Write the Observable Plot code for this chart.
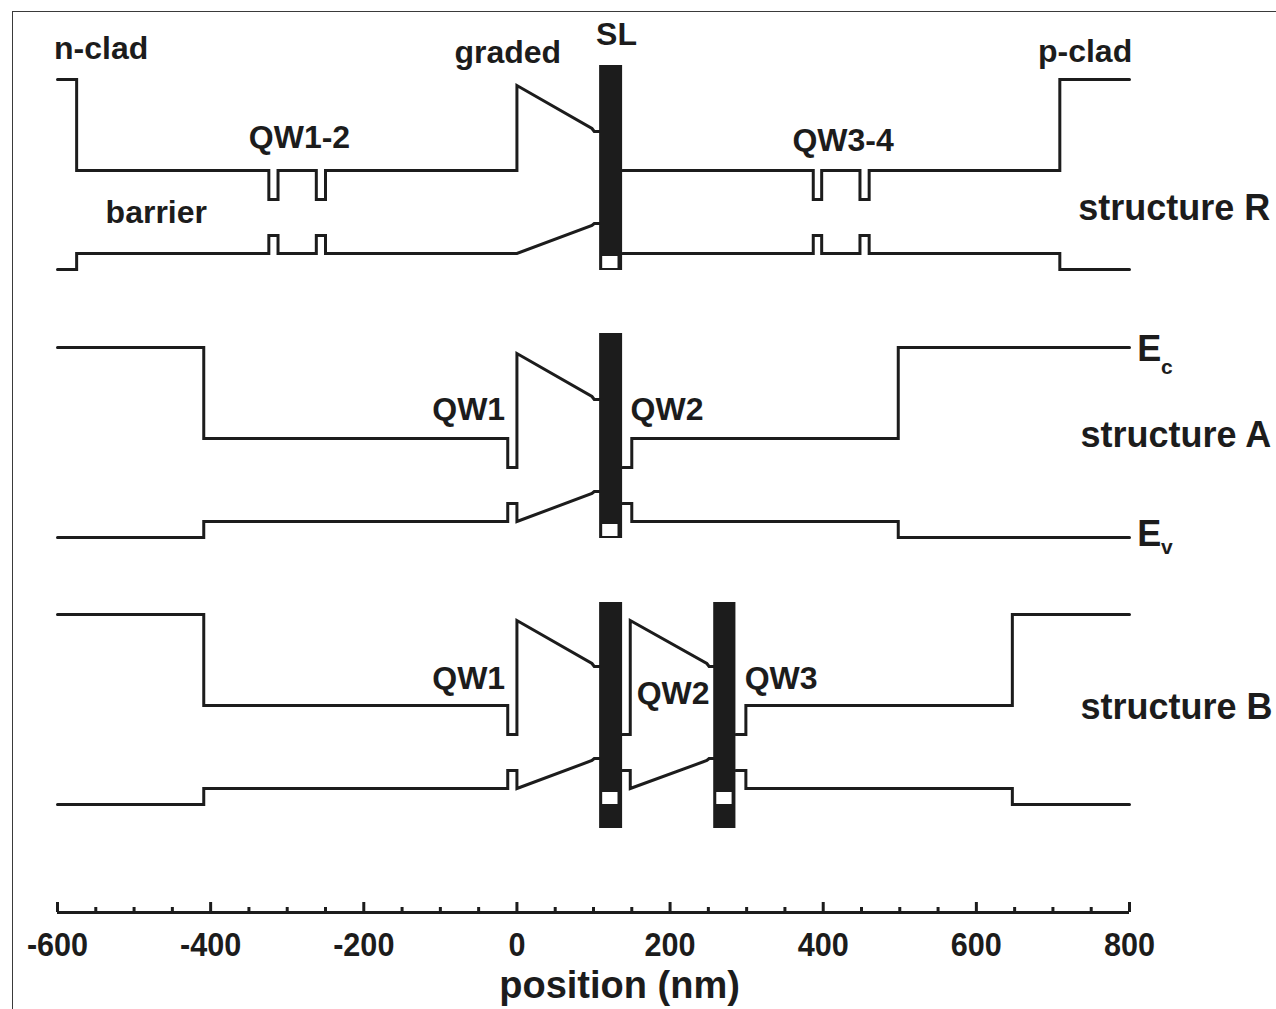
<!DOCTYPE html>
<html>
<head>
<meta charset="utf-8">
<script src="https://cdn.jsdelivr.net/npm/d3@7"></script>
<script src="https://cdn.jsdelivr.net/npm/@observablehq/plot@0.6"></script>
<style>
  html, body { margin: 0; padding: 0; background: #fff; overflow: hidden; }
  #wrap { position: relative; width: 1276px; height: 1009px; }
  #border { position: absolute; left: 12px; top: 11px; width: 1400px; height: 1200px;
            border-top: 1.5px solid #3a3a3a; border-left: 1.5px solid #3a3a3a; pointer-events: none; z-index: 2; }
  #wrap svg { position: absolute; left: 0; top: 0; }
</style>
</head>
<body>
<div id="wrap"><div id="border"></div></div>
<script>
// ---------------- data ----------------
const positionTicks = [-600, -400, -200, 0, 200, 400, 600, 800];
const minorTicks = [-550, -500, -450, -350, -300, -250, -150, -100, -50, 50, 100, 150, 250, 300, 350, 450, 500, 550, 650, 700, 750];

// vertical stacking offset of each structure (energy, a.u.)
const structureNames = ["R", "A", "B"];
const structureOffsets = [0, -2.68, -5.35];

// band edges: [position (nm), energy (a.u., relative to cladding Ev)]; null = interrupted by the SL
const ecR = [[-600, 1.90], [-575, 1.90], [-575, 0.99], [-324, 0.99], [-324, 0.70], [-312, 0.70], [-312, 0.99],
  [-262, 0.99], [-262, 0.70], [-250, 0.70], [-250, 0.99], [0, 0.99], [0, 1.84], [98, 1.41], [101, 1.38], [108, 1.38], null,
  [138, 0.99], [387, 0.99], [387, 0.70], [398, 0.70], [398, 0.99], [448, 0.99], [448, 0.70], [460, 0.70], [460, 0.99],
  [709, 0.99], [709, 1.90], [800, 1.90]];
const evR = [[-600, 0], [-575, 0], [-575, 0.16], [-324, 0.16], [-324, 0.34], [-312, 0.34], [-312, 0.16],
  [-262, 0.16], [-262, 0.34], [-250, 0.34], [-250, 0.16], [0, 0.16], [98, 0.44], [101, 0.46], [108, 0.46], null,
  [138, 0.16], [387, 0.16], [387, 0.34], [398, 0.34], [398, 0.16], [448, 0.16], [448, 0.34], [460, 0.34], [460, 0.16],
  [709, 0.16], [709, 0], [800, 0]];

const ecA = [[-600, 1.90], [-409, 1.90], [-409, 0.99], [-12, 0.99], [-12, 0.70], [0, 0.70], [0, 1.84],
  [98, 1.41], [101, 1.38], [108, 1.38], null,
  [138, 0.70], [150, 0.70], [150, 0.99], [498, 0.99], [498, 1.90], [800, 1.90]];
const evA = [[-600, 0], [-409, 0], [-409, 0.16], [-12, 0.16], [-12, 0.34], [0, 0.34], [0, 0.16],
  [98, 0.44], [101, 0.46], [108, 0.46], null,
  [138, 0.34], [150, 0.34], [150, 0.16], [498, 0.16], [498, 0], [800, 0]];

const ecB = [[-600, 1.90], [-409, 1.90], [-409, 0.99], [-12, 0.99], [-12, 0.70], [0, 0.70], [0, 1.84],
  [98, 1.41], [101, 1.38], [108, 1.38], null,
  [138, 0.70], [148, 0.70], [148, 1.84], [248, 1.41], [251, 1.38], [257, 1.38], null,
  [286, 0.70], [299, 0.70], [299, 0.99], [647, 0.99], [647, 1.90], [800, 1.90]];
const evB = [[-600, 0], [-409, 0], [-409, 0.16], [-12, 0.16], [-12, 0.34], [0, 0.34], [0, 0.16],
  [98, 0.44], [101, 0.46], [108, 0.46], null,
  [138, 0.34], [148, 0.34], [148, 0.16], [248, 0.44], [251, 0.46], [257, 0.46], null,
  [286, 0.34], [299, 0.34], [299, 0.16], [647, 0.16], [647, 0], [800, 0]];

// superlattice (SL) blocks: start, end (nm), top, bottom (energy)
const slR = [[108, 138, 2.04, -0.01]];
const slA = [[108, 138, 2.04, -0.01]];
const slB = [[108, 138, 2.02, -0.24], [257, 286, 2.02, -0.24]];
// open windows inside the SL blocks
const slWinR = [[112, 132, 0.13, 0.01]];
const slWinA = [[112, 132, 0.13, 0.01]];
const slWinB = [[112, 132, 0.12, 0.0], [261, 281, 0.12, 0.0]];

// ---------------- build tables ----------------
const profiles = { R: [ecR, evR], A: [ecA, evA], B: [ecB, evB] };
const sls = { R: slR, A: slA, B: slB };
const slWins = { R: slWinR, A: slWinA, B: slWinB };

const bandPts = [];
const slRects = [];
const winRects = [];
structureNames.forEach((s, i) => {
  const off = structureOffsets[i];
  profiles[s].forEach((band, b) => {
    let seg = 0;
    band.forEach(p => {
      if (p === null) { seg++; return; }
      bandPts.push({ id: `${s}-${b}-${seg}`, x: p[0], y: p[1] + off });
    });
  });
  sls[s].forEach(r => slRects.push({ x1: r[0], x2: r[1], y1: r[2] + off, y2: r[3] + off }));
  slWins[s].forEach(r => winRects.push({ x1: r[0], x2: r[1], y1: r[2] + off, y2: r[3] + off }));
});

// ---------------- annotations ----------------
const font = "'Liberation Sans', Arial, Helvetica, sans-serif";
const ink = "#1c1c1c";
const labelsMid = [
  { t: "n-clad", x: -543, y: 2.11 },
  { t: "graded", x: -12, y: 2.07 },
  { t: "SL", x: 130, y: 2.245 },
  { t: "p-clad", x: 742, y: 2.08 },
  { t: "QW1-2", x: -284, y: 1.22 },
  { t: "QW3-4", x: 426, y: 1.19 },
  { t: "barrier", x: -471, y: 0.47 },
  { t: "QW1", x: -63, y: -1.50 },
  { t: "QW2", x: 196, y: -1.50 },
  { t: "QW1", x: -63, y: -4.19 },
  { t: "QW2", x: 204, y: -4.34 },
  { t: "QW3", x: 345, y: -4.19 }
];
const labelsBig = [
  { t: "structure R", x: 733, y: 0.50 },
  { t: "structure A", x: 736, y: -1.77 },
  { t: "structure B", x: 736, y: -4.49 },
  { t: "E", x: 810, y: -0.91 },
  { t: "E", x: 810, y: -2.76 }
];
const labelsSub = [
  { t: "c", x: 841, y: -1.04 },
  { t: "v", x: 841, y: -2.84 }
];

const chart = Plot.plot({
  width: 1276,
  height: 1009,
  marginLeft: 57,
  marginRight: 147,
  marginTop: 12,
  marginBottom: 97,
  x: { domain: [-600, 800], axis: null },
  y: { domain: [-6.43, 2.57], axis: null },
  style: { background: "none", color: ink, fontFamily: font },
  marks: [
    Plot.line(bandPts, { x: "x", y: "y", z: "id", stroke: ink, strokeWidth: 3, strokeLinejoin: "miter", strokeMiterlimit: 10 }),
    Plot.rect(slRects, { x1: "x1", x2: "x2", y1: "y1", y2: "y2", fill: ink }),
    Plot.rect(winRects, { x1: "x1", x2: "x2", y1: "y1", y2: "y2", fill: "#ffffff" }),
    // x axis
    Plot.ruleY([-6.43], { stroke: ink, strokeWidth: 3 }),
    Plot.tickX(positionTicks, { x: d => d, insetTop: 890, stroke: ink, strokeWidth: 3 }),
    Plot.tickX(minorTicks, { x: d => d, insetTop: 895, stroke: ink, strokeWidth: 3 }),
    Plot.text(positionTicks, { x: d => d, text: d => String(d), frameAnchor: "bottom", dy: 19, lineAnchor: "top",
      fontSize: 34, fontWeight: "bold", fontFamily: font, fill: ink, ariaLabel: "tick-labels" }),
    Plot.text(["position (nm)"], { x: 134, text: d => d, frameAnchor: "bottom", dy: 85, lineAnchor: "bottom",
      fontSize: 38, fontWeight: "bold", fontFamily: font, fill: ink }),
    // annotations
    Plot.text(labelsMid, { x: "x", y: "y", text: "t", textAnchor: "middle", lineAnchor: "bottom",
      fontSize: 32, fontWeight: "bold", fontFamily: font, fill: ink }),
    Plot.text(labelsBig, { x: "x", y: "y", text: "t", textAnchor: "start", lineAnchor: "bottom",
      fontSize: 36, fontWeight: "bold", fontFamily: font, fill: ink }),
    Plot.text(labelsSub, { x: "x", y: "y", text: "t", textAnchor: "start", lineAnchor: "bottom",
      fontSize: 21, fontWeight: "bold", fontFamily: font, fill: ink })
  ]
});
document.getElementById("wrap").appendChild(chart);

// condense the tick labels horizontally, like the narrow digits of the original
const tickGroup = chart.querySelector('g[aria-label="tick-labels"]') || chart.querySelectorAll('g[aria-label="text"]')[0];
if (tickGroup) {
  tickGroup.querySelectorAll("text").forEach(t => {
    const tr = t.getAttribute("transform") || "";
    t.setAttribute("transform", tr + " scale(0.9,1)");
  });
}
</script>
</body>
</html>
